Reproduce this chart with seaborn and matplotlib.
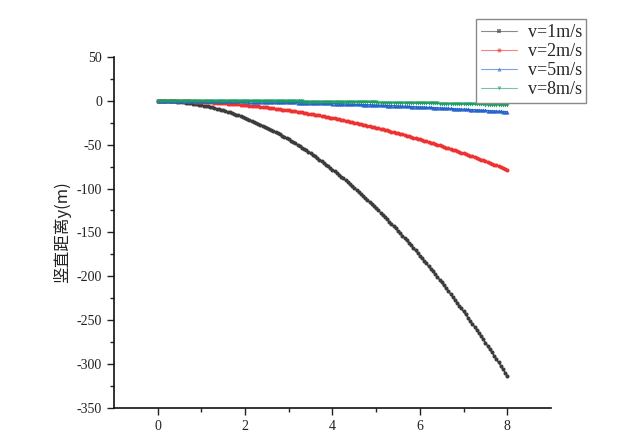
import matplotlib
matplotlib.use("Agg")
import matplotlib.pyplot as plt
import seaborn as sns
import pandas as pd
from matplotlib.ticker import MultipleLocator

#-- Values: horizontal distance x (m) and vertical drop y (m). --#
x_vals = [
    0.0, 0.05, 0.1, 0.15, 0.2, 0.25, 0.3, 0.35, 0.4, 0.45,
    0.5, 0.55, 0.6, 0.65, 0.7, 0.75, 0.8, 0.85, 0.9, 0.95,
    1.0, 1.05, 1.1, 1.15, 1.2, 1.25, 1.3, 1.35, 1.4, 1.45,
    1.5, 1.55, 1.6, 1.65, 1.7, 1.75, 1.8, 1.85, 1.9, 1.95,
    2.0, 2.05, 2.1, 2.15, 2.2, 2.25, 2.3, 2.35, 2.4, 2.45,
    2.5, 2.55, 2.6, 2.65, 2.7, 2.75, 2.8, 2.85, 2.9, 2.95,
    3.0, 3.05, 3.1, 3.15, 3.2, 3.25, 3.3, 3.35, 3.4, 3.45,
    3.5, 3.55, 3.6, 3.65, 3.7, 3.75, 3.8, 3.85, 3.9, 3.95,
    4.0, 4.05, 4.1, 4.15, 4.2, 4.25, 4.3, 4.35, 4.4, 4.45,
    4.5, 4.55, 4.6, 4.65, 4.7, 4.75, 4.8, 4.85, 4.9, 4.95,
    5.0, 5.05, 5.1, 5.15, 5.2, 5.25, 5.3, 5.35, 5.4, 5.45,
    5.5, 5.55, 5.6, 5.65, 5.7, 5.75, 5.8, 5.85, 5.9, 5.95,
    6.0, 6.05, 6.1, 6.15, 6.2, 6.25, 6.3, 6.35, 6.4, 6.45,
    6.5, 6.55, 6.6, 6.65, 6.7, 6.75, 6.8, 6.85, 6.9, 6.95,
    7.0, 7.05, 7.1, 7.15, 7.2, 7.25, 7.3, 7.35, 7.4, 7.45,
    7.5, 7.55, 7.6, 7.65, 7.7, 7.75, 7.8, 7.85, 7.9, 7.95,
    8.0,
]

y_v1 = [
    0.0, -0.01, -0.05, -0.11, -0.2, -0.31, -0.44, -0.6, -0.78, -0.99,
    -1.23, -1.48, -1.76, -2.07, -2.4, -2.76, -3.14, -3.54, -3.97, -4.42,
    -4.9, -5.4, -5.93, -6.48, -7.06, -7.66, -8.28, -8.93, -9.6, -10.3,
    -11.03, -11.77, -12.54, -13.34, -14.16, -15.01, -15.88, -16.77, -17.69, -18.63,
    -19.6, -20.59, -21.61, -22.65, -23.72, -24.81, -25.92, -27.06, -28.22, -29.41,
    -30.63, -31.86, -33.12, -34.41, -35.72, -37.06, -38.42, -39.8, -41.21, -42.64,
    -44.1, -45.58, -47.09, -48.62, -50.18, -51.76, -53.36, -54.99, -56.64, -58.32,
    -60.03, -61.75, -63.5, -65.28, -67.08, -68.91, -70.76, -72.63, -74.53, -76.45,
    -78.4, -80.37, -82.37, -84.39, -86.44, -88.51, -90.6, -92.72, -94.86, -97.03,
    -99.23, -101.44, -103.68, -105.95, -108.24, -110.56, -112.9, -115.26, -117.65, -120.06,
    -122.5, -124.96, -127.45, -129.96, -132.5, -135.06, -137.64, -140.25, -142.88, -145.54,
    -148.23, -150.93, -153.66, -156.42, -159.2, -162.01, -164.84, -167.69, -170.57, -173.47,
    -176.4, -179.35, -182.33, -185.33, -188.36, -191.41, -194.48, -197.58, -200.7, -203.85,
    -207.03, -210.22, -213.44, -216.69, -219.96, -223.26, -226.58, -229.92, -233.29, -236.68,
    -240.1, -243.54, -247.01, -250.5, -254.02, -257.56, -261.12, -264.71, -268.32, -271.96,
    -275.63, -279.31, -283.02, -286.76, -290.52, -294.31, -298.12, -301.95, -305.81, -309.69,
    -313.6,
]

y_v2 = [
    0.0, 0.0, -0.01, -0.03, -0.05, -0.08, -0.11, -0.15, -0.2, -0.25,
    -0.31, -0.37, -0.44, -0.52, -0.6, -0.69, -0.78, -0.89, -0.99, -1.11,
    -1.23, -1.35, -1.48, -1.62, -1.76, -1.91, -2.07, -2.23, -2.4, -2.58,
    -2.76, -2.94, -3.14, -3.34, -3.54, -3.75, -3.97, -4.19, -4.42, -4.66,
    -4.9, -5.15, -5.4, -5.66, -5.93, -6.2, -6.48, -6.77, -7.06, -7.35,
    -7.66, -7.97, -8.28, -8.6, -8.93, -9.26, -9.6, -9.95, -10.3, -10.66,
    -11.03, -11.4, -11.77, -12.16, -12.54, -12.94, -13.34, -13.75, -14.16, -14.58,
    -15.01, -15.44, -15.88, -16.32, -16.77, -17.23, -17.69, -18.16, -18.63, -19.11,
    -19.6, -20.09, -20.59, -21.1, -21.61, -22.13, -22.65, -23.18, -23.72, -24.26,
    -24.81, -25.36, -25.92, -26.49, -27.06, -27.64, -28.22, -28.82, -29.41, -30.02,
    -30.63, -31.24, -31.86, -32.49, -33.12, -33.76, -34.41, -35.06, -35.72, -36.39,
    -37.06, -37.73, -38.42, -39.11, -39.8, -40.5, -41.21, -41.92, -42.64, -43.37,
    -44.1, -44.84, -45.58, -46.33, -47.09, -47.85, -48.62, -49.4, -50.18, -50.96,
    -51.76, -52.56, -53.36, -54.17, -54.99, -55.81, -56.64, -57.48, -58.32, -59.17,
    -60.03, -60.89, -61.75, -62.63, -63.5, -64.39, -65.28, -66.18, -67.08, -67.99,
    -68.91, -69.83, -70.76, -71.69, -72.63, -73.58, -74.53, -75.49, -76.45, -77.42,
    -78.4,
]

y_v5 = [
    0.0, 0.0, 0.0, 0.0, -0.01, -0.01, -0.02, -0.02, -0.03, -0.04,
    -0.05, -0.06, -0.07, -0.08, -0.1, -0.11, -0.13, -0.14, -0.16, -0.18,
    -0.2, -0.22, -0.24, -0.26, -0.28, -0.31, -0.33, -0.36, -0.38, -0.41,
    -0.44, -0.47, -0.5, -0.53, -0.57, -0.6, -0.64, -0.67, -0.71, -0.75,
    -0.78, -0.82, -0.86, -0.91, -0.95, -0.99, -1.04, -1.08, -1.13, -1.18,
    -1.23, -1.27, -1.32, -1.38, -1.43, -1.48, -1.54, -1.59, -1.65, -1.71,
    -1.76, -1.82, -1.88, -1.94, -2.01, -2.07, -2.13, -2.2, -2.27, -2.33,
    -2.4, -2.47, -2.54, -2.61, -2.68, -2.76, -2.83, -2.91, -2.98, -3.06,
    -3.14, -3.21, -3.29, -3.38, -3.46, -3.54, -3.62, -3.71, -3.79, -3.88,
    -3.97, -4.06, -4.15, -4.24, -4.33, -4.42, -4.52, -4.61, -4.71, -4.8,
    -4.9, -5.0, -5.1, -5.2, -5.3, -5.4, -5.51, -5.61, -5.72, -5.82,
    -5.93, -6.04, -6.15, -6.26, -6.37, -6.48, -6.59, -6.71, -6.82, -6.94,
    -7.06, -7.17, -7.29, -7.41, -7.53, -7.66, -7.78, -7.9, -8.03, -8.15,
    -8.28, -8.41, -8.54, -8.67, -8.8, -8.93, -9.06, -9.2, -9.33, -9.47,
    -9.6, -9.74, -9.88, -10.02, -10.16, -10.3, -10.44, -10.59, -10.73, -10.88,
    -11.03, -11.17, -11.32, -11.47, -11.62, -11.77, -11.92, -12.08, -12.23, -12.39,
    -12.54,
]

y_v8 = [
    0.0, 0.0, 0.0, 0.0, 0.0, 0.0, 0.0, 0.0, 0.0, 0.0,
    0.0, 0.0, 0.0, 0.0, 0.0, 0.0, 0.0, -0.1, -0.1, -0.1,
    -0.1, -0.1, -0.1, -0.1, -0.1, -0.1, -0.1, -0.1, -0.2, -0.2,
    -0.2, -0.2, -0.2, -0.2, -0.2, -0.2, -0.2, -0.3, -0.3, -0.3,
    -0.3, -0.3, -0.3, -0.4, -0.4, -0.4, -0.4, -0.4, -0.4, -0.5,
    -0.5, -0.5, -0.5, -0.5, -0.6, -0.6, -0.6, -0.6, -0.6, -0.7,
    -0.7, -0.7, -0.7, -0.8, -0.8, -0.8, -0.8, -0.9, -0.9, -0.9,
    -0.9, -1.0, -1.0, -1.0, -1.0, -1.1, -1.1, -1.1, -1.2, -1.2,
    -1.2, -1.3, -1.3, -1.3, -1.4, -1.4, -1.4, -1.4, -1.5, -1.5,
    -1.6, -1.6, -1.6, -1.7, -1.7, -1.7, -1.8, -1.8, -1.8, -1.9,
    -1.9, -2.0, -2.0, -2.0, -2.1, -2.1, -2.2, -2.2, -2.2, -2.3,
    -2.3, -2.4, -2.4, -2.4, -2.5, -2.5, -2.6, -2.6, -2.7, -2.7,
    -2.8, -2.8, -2.8, -2.9, -2.9, -3.0, -3.0, -3.1, -3.1, -3.2,
    -3.2, -3.3, -3.3, -3.4, -3.4, -3.5, -3.5, -3.6, -3.6, -3.7,
    -3.8, -3.8, -3.9, -3.9, -4.0, -4.0, -4.1, -4.1, -4.2, -4.2,
    -4.3, -4.4, -4.4, -4.5, -4.5, -4.6, -4.7, -4.7, -4.8, -4.8,
    -4.9,
]

series_labels = ["v=1m/s", "v=2m/s", "v=5m/s", "v=8m/s"]
series_values = [y_v1, y_v2, y_v5, y_v8]
x_ticks = [0, 2, 4, 6, 8]
y_ticks = [50, 0, -50, -100, -150, -200, -250, -300, -350]

#-- Styling --#
colors = {"v=1m/s": "#3c3c3c", "v=2m/s": "#ee3131",
          "v=5m/s": "#2462cc", "v=8m/s": "#1f9e63"}
markers = {"v=1m/s": "o", "v=2m/s": "o", "v=5m/s": "^", "v=8m/s": "v"}

frames = []
for lab, ys in zip(series_labels, series_values):
    frames.append(pd.DataFrame({"x": x_vals, "y": ys, "v": lab}))
df = pd.concat(frames, ignore_index=True)

sns.set_style("ticks")
plt.rcParams["font.family"] = ["Liberation Serif", "Noto Sans CJK SC", "DejaVu Sans"]
plt.rcParams["axes.unicode_minus"] = False

fig, ax = plt.subplots(figsize=(6.4, 4.41), dpi=100)
fig.subplots_adjust(left=0.178, right=0.861, bottom=0.075, top=0.871)

sns.lineplot(data=df, x="x", y="y", hue="v", style="v", hue_order=series_labels,
             style_order=series_labels, palette=colors, markers=markers, dashes=False,
             estimator=None, sort=False, linewidth=1.0, markersize=2.9,
             markeredgewidth=0, ax=ax)

ax.set_xlim(-1, 9)
ax.set_ylim(-350, 50)
ax.set_xticks(x_ticks)
ax.set_yticks(y_ticks)
ax.xaxis.set_minor_locator(plt.FixedLocator([1, 3, 5, 7]))
ax.yaxis.set_minor_locator(MultipleLocator(25))
ax.tick_params(axis="both", which="major", direction="out", length=5, width=1,
               labelsize=10, colors="#222222")
ax.tick_params(axis="both", which="minor", direction="out", length=3, width=1,
               colors="#222222")
for side in ["top", "right"]:
    ax.spines[side].set_visible(False)
for side in ["left", "bottom"]:
    ax.spines[side].set_linewidth(1.2)
    ax.spines[side].set_color("#111111")

ax.set_xlabel("")
ax.set_ylabel("竖直距离y(m)", family=["Noto Sans CJK SC", "DejaVu Sans"],
              fontsize=12, labelpad=4, color="#222222")

handles, labels = ax.get_legend_handles_labels()
for h in handles:
    h.set_linewidth(0.8)
    h.set_alpha(0.6)
    h.set_markersize(3)
handles[0].set_marker("s")
ax.legend(handles, labels, loc="upper left", bbox_to_anchor=(0.744, 0.956),
          bbox_transform=fig.transFigure, frameon=True, fancybox=False,
          edgecolor="#8a8a8a", framealpha=1, fontsize=13, handlelength=2.0,
          handletextpad=0.6, borderpad=0.25, labelspacing=0.12, numpoints=1,
          borderaxespad=0)
ax.get_legend().get_frame().set_linewidth(1.0)

fig.savefig("out.png", dpi=100)
